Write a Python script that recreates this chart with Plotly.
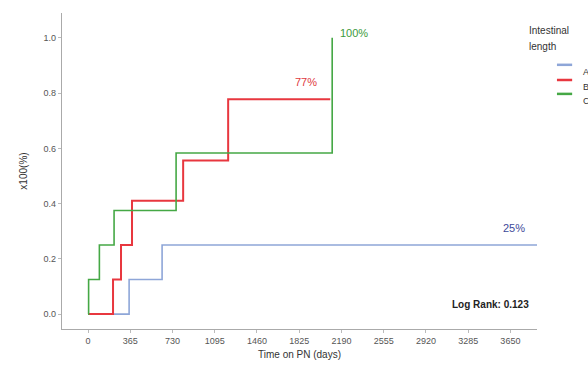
import plotly.graph_objects as go

# ---- data ----
groups = ["A", "B", "C"]
colors = ["#8ea6d8", "#e8373f", "#45a845"]

blue_days = [0, 355, 640, 3880]
blue_vals = [0.0, 0.125, 0.25, 0.25]

red_days = [0, 216, 285, 380, 822, 1211, 2093]
red_vals = [0.0, 0.125, 0.25, 0.41, 0.556, 0.778, 0.778]

green_days = [0, 5, 98, 225, 761, 2110]
green_vals = [0.0, 0.125, 0.25, 0.375, 0.583, 1.0]

x_ticks = [0, 365, 730, 1095, 1460, 1825, 2190, 2555, 2920, 3285, 3650]
y_ticks = [0.0, 0.2, 0.4, 0.6, 0.8, 1.0]

end_labels = ["25%", "77%", "100%"]
end_label_pos = [(3682, 0.31), (1884, 0.84), (2300, 1.018)]
end_label_colors = ["#3d4a9a", "#e0393e", "#3c9a3c"]

log_rank_text = "Log Rank: 0.123"

fig = go.Figure()
series = [(blue_days, blue_vals), (red_days, red_vals), (green_days, green_vals)]
widths = [1.6, 2.0, 1.6]
for (d, v), c, name, w in zip(series, colors, groups, widths):
    fig.add_trace(go.Scatter(x=d, y=v, mode="lines", line=dict(color=c, width=w, shape="hv"),
                             name=name, showlegend=False, hoverinfo="skip", cliponaxis=False))

for txt, (xx, yy), c in zip(end_labels, end_label_pos, end_label_colors):
    fig.add_annotation(x=xx, y=yy, text=txt, showarrow=False,
                       font=dict(family="Liberation Sans, Arial", size=11, color=c))

fig.add_annotation(x=3830, y=0.033, text="<b>" + log_rank_text + "</b>", showarrow=False,
                   xanchor="right", font=dict(family="Liberation Sans, Arial", size=10, color="#222"))

# legend drawn manually (it runs off the right edge in the reference)
fig.add_annotation(xref="paper", yref="paper", x=0.979, y=0.968, text="Intestinal", showarrow=False,
                   xanchor="left", font=dict(family="Liberation Sans, Arial", size=10, color="#333"))
fig.add_annotation(xref="paper", yref="paper", x=0.979, y=0.918, text="length", showarrow=False,
                   xanchor="left", font=dict(family="Liberation Sans, Arial", size=10, color="#333"))
leg_y = [0.836, 0.788, 0.744]
for g, c, yy in zip(groups, colors, leg_y):
    fig.add_shape(type="line", xref="paper", yref="paper", x0=1.042, x1=1.074, y0=yy, y1=yy,
                  line=dict(color=c, width=2.5))
    fig.add_annotation(xref="paper", yref="paper", x=1.092, y=yy, text=g, showarrow=False,
                       xanchor="left", font=dict(family="Liberation Sans, Arial", size=9, color="#333"))

fig.update_layout(
    width=588, height=371,
    margin=dict(l=62, r=51, t=13, b=42),
    paper_bgcolor="white", plot_bgcolor="white",
    font=dict(family="Liberation Sans, Arial", size=9, color="#555"),
    xaxis=dict(range=[-225, 3880], tickvals=x_ticks, ticktext=[str(t) for t in x_ticks],
               showgrid=False, zeroline=False, showline=True, linecolor="#aaa", linewidth=1.2,
               ticks="outside", ticklen=3, tickcolor="#bbb",
               title=dict(text="Time on PN (days)", font=dict(size=10, color="#333"), standoff=6)),
    yaxis=dict(range=[-0.054, 1.09], tickvals=y_ticks, ticktext=[f"{t:.1f}" for t in y_ticks],
               showgrid=False, zeroline=False, showline=True, linecolor="#aaa", linewidth=1.2,
               ticks="outside", ticklen=3, tickcolor="#bbb",
               title=dict(text="x100(%)", font=dict(size=10, color="#333"), standoff=14)),
)

fig.write_html("out.html")
